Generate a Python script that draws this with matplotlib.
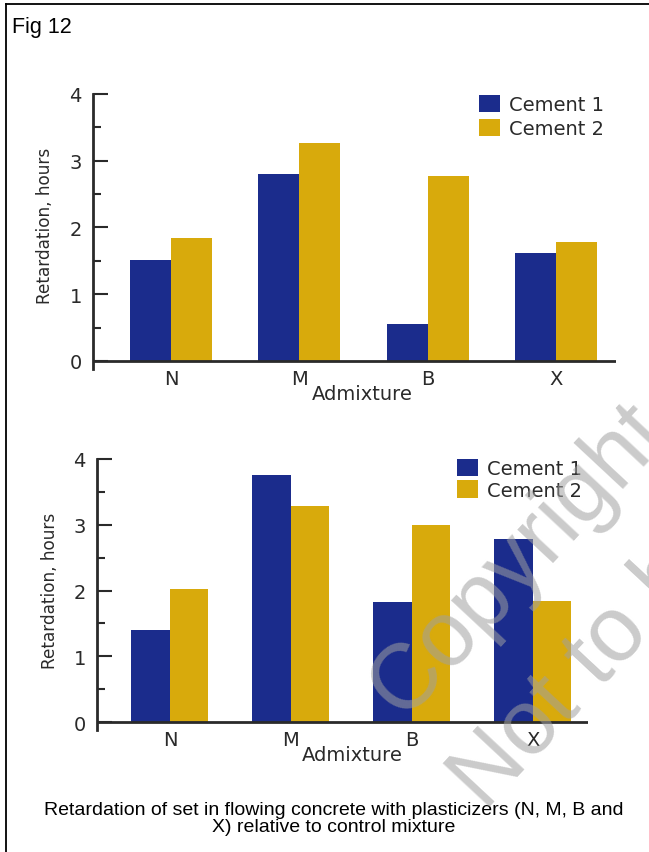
import matplotlib
matplotlib.use("Agg")
import matplotlib.pyplot as plt
from matplotlib import font_manager
from matplotlib.lines import Line2D
from matplotlib.ticker import MultipleLocator

# ---- data -------------------------------------------------------------
admixtures = ["N", "M", "B", "X"]
series_names = ["Cement 1", "Cement 2"]
top_cement1 = [1.51, 2.80, 0.56, 1.62]
top_cement2 = [1.84, 3.27, 2.77, 1.78]
bottom_cement1 = [1.40, 3.76, 1.83, 2.79]
bottom_cement2 = [2.03, 3.29, 3.00, 1.84]
y_ticks = [0, 1, 2, 3, 4]

# ---- style ------------------------------------------------------------
W, H = 649, 853
BLUE = "#1b2c8c"
GOLD = "#d8aa0c"
INK = "#2a2a2a"

names = {f.name for f in font_manager.fontManager.ttflist}
TEXT_FONT = "Liberation Sans" if "Liberation Sans" in names else "DejaVu Sans"
plt.rcParams["font.family"] = ["DejaVu Sans"]

fig = plt.figure(figsize=(W / 100, H / 100), dpi=100)
fig.patch.set_facecolor("white")


def px_rect(left, right, top, bottom):
    return [left / W, 1 - bottom / H, (right - left) / W, (bottom - top) / H]


def draw_panel(rect, xlim, width, c1, c2, ylabel_xy, xlabel_xy, legend_xy, spacing):
    ax = fig.add_axes(rect)
    x = list(range(len(admixtures)))
    ax.bar([i - width / 2 for i in x], c1, width, color=BLUE, label=series_names[0], zorder=2)
    ax.bar([i + width / 2 for i in x], c2, width, color=GOLD, label=series_names[1], zorder=2)
    ax.set_xlim(*xlim)
    ax.set_ylim(-0.12, 4)
    ax.axhline(0, color=INK, lw=2.0, zorder=3)
    for s in ("top", "right", "bottom"):
        ax.spines[s].set_visible(False)
    ax.spines["left"].set_bounds(-0.12, 4)
    ax.spines["left"].set_linewidth(2.0)
    ax.spines["left"].set_color(INK)
    ax.set_yticks(y_ticks)
    ax.yaxis.set_minor_locator(MultipleLocator(0.5))
    ax.tick_params(axis="y", which="major", direction="in", length=10.5, width=1.5,
                   color=INK, labelsize=14, labelcolor=INK, pad=8)
    ax.tick_params(axis="y", which="minor", direction="in", length=6, width=1.5, color=INK)
    ax.set_xticks(x)
    ax.set_xticklabels(admixtures)
    ax.tick_params(axis="x", length=0, labelsize=14, labelcolor=INK, pad=0)
    fig.text(ylabel_xy[0] / W, 1 - ylabel_xy[1] / H, "Retardation, hours", rotation=90,
             ha="center", va="center", fontsize=12.2, color=INK)
    fig.text(xlabel_xy[0] / W, 1 - xlabel_xy[1] / H, "Admixture",
             ha="center", va="center", fontsize=14, color=INK)
    ax.legend(loc="upper left", bbox_to_anchor=(legend_xy[0] / W, 1 - legend_xy[1] / H),
              bbox_transform=fig.transFigure, frameon=False, borderpad=0, borderaxespad=0,
              handlelength=1.1, handleheight=1.0, handletextpad=0.45,
              labelspacing=spacing, fontsize=14, labelcolor=INK)
    return ax


draw_panel(px_rect(93, 616, 95, 370), (-0.608, 3.468), 0.32,
           top_cement1, top_cement2, (45, 226), (362, 394), (479, 96), 0.22)
draw_panel(px_rect(97, 588, 460, 731), (-0.603, 3.455), 0.318,
           bottom_cement1, bottom_cement2, (50, 591), (352, 756), (457, 460), 0.1)

# figure frame (top and left rules)
fig.add_artist(Line2D([6 / W, 6 / W], [0, 1 - 5 / H], color="black", lw=1.3))
fig.add_artist(Line2D([6 / W, 1], [1 - 5 / H, 1 - 5 / H], color="black", lw=1.3))

fig.text(12 / W, 1 - 28 / H, "Fig 12", ha="left", va="center", fontsize=15.5,
         family=[TEXT_FONT, "DejaVu Sans"], color="black")

fig.text(334 / W, 1 - 819 / H,
         "Retardation of set in flowing concrete with plasticizers (N, M, B and\n"
         "X) relative to control mixture",
         ha="center", va="center", multialignment="center", fontsize=14,
         family=[TEXT_FONT, "DejaVu Sans"], color="black", linespacing=1.05)

# watermark
wm = dict(fontsize=66, color="#a0a0a0", alpha=0.55, rotation=47,
          rotation_mode="anchor", ha="left", va="baseline", zorder=10,
          family=[TEXT_FONT, "DejaVu Sans"])
fig.text(402 / W, 1 - 720 / H, "Copyright", **wm)
fig.text(485 / W, 1 - 812 / H, "Not to be republished", **wm)

fig.savefig("out.png", dpi=100, facecolor="white")
